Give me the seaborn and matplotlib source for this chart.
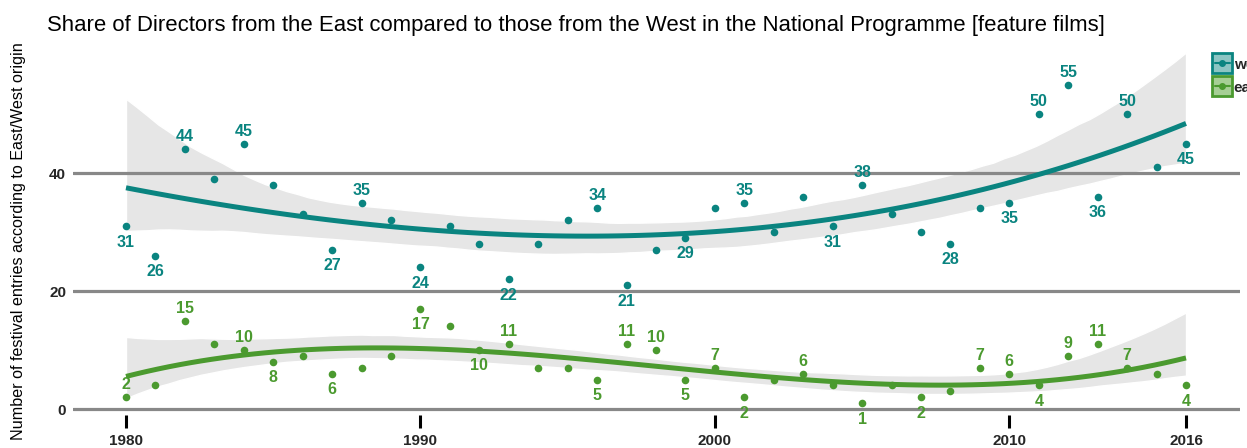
import numpy as np
import pandas as pd
import matplotlib
matplotlib.use("Agg")
import matplotlib.pyplot as plt
from matplotlib.lines import Line2D
from matplotlib.legend_handler import HandlerTuple
import seaborn as sns

# ---------------- data ----------------
years = list(range(1980, 2017))
west = [31, 26, 44, 39, 45, 38, 33, 27, 35, 32,
        24, 31, 28, 22, 28, 32, 34, 21, 27, 29,
        34, 35, 30, 36, 31, 38, 33, 30, 28, 34,
        35, 50, 55, 36, 50, 41, 45]
east = [2, 4, 15, 11, 10, 8, 9, 6, 7, 9,
        17, 14, 10, 11, 7, 7, 5, 11, 10, 5,
        7, 2, 5, 6, 4, 1, 4, 2, 3, 7,
        6, 4, 9, 11, 7, 6, 4]
west_labels_above = [1982, 1984, 1988, 1996, 2001, 2005, 2011, 2012, 2014]
west_labels_below = [1980, 1981, 1987, 1990, 1993, 1997, 1999, 2004, 2008, 2010, 2013, 2016]
east_labels_above = [1980, 1982, 1984, 1993, 1997, 1998, 2000, 2003, 2009, 2010, 2012, 2013, 2014]
east_labels_below = [1985, 1987, 1990, 1992, 1996, 1999, 2001, 2005, 2007, 2011, 2016]
series_names = ["west", "east"]
x_ticks = [1980, 1990, 2000, 2010, 2016]
y_ticks = [0, 20, 40]
title = "Share of Directors from the East compared to those from the West in the National Programme [feature films]"
y_label = "Number of festival entries according to East/West origin"

# ---------------- style ----------------
sns.set_theme(style="white")
plt.rcParams["font.family"] = ["Liberation Sans", "DejaVu Sans"]

W, H = 1247, 448
fig = plt.figure(figsize=(W / 100, H / 100), dpi=100)
ax_left, ax_right, ax_top, ax_bottom = 73, 1240, 40, 415
ax = fig.add_axes([ax_left / W, (H - ax_bottom) / H,
                   (ax_right - ax_left) / W, (ax_bottom - ax_top) / H])

teal = "#0a8480"
green = "#4b9a2f"
band = "#e6e6e6"
colors = [teal, green]

df = pd.DataFrame({"year": years, "west": west, "east": east})

for name, col in zip(series_names, colors):
    n_before = len(ax.collections)
    sns.regplot(data=df, x="year", y=name, order=3, ci=95, seed=3,
                scatter=False, color=col, ax=ax,
                line_kws=dict(lw=3.6, solid_capstyle="butt", zorder=3))
    for c in ax.collections[n_before:]:
        c.set_facecolor(band)
        c.set_alpha(1)
        c.set_zorder(1)

for yv in y_ticks:
    ax.axhline(yv, color="#888888", lw=2.3, zorder=1.5)

for name, col in zip(series_names, colors):
    sns.scatterplot(data=df, x="year", y=name, color=col, s=30,
                    linewidth=0, ax=ax, zorder=4)

def add_labels(vals, above, below, col):
    for yr in above:
        v = vals[years.index(yr)]
        ax.annotate(str(v), (yr, v), xytext=(0, 9), textcoords="offset points",
                    ha="center", va="center", color=col, fontsize=11.5,
                    fontweight="bold", zorder=5)
    for yr in below:
        v = vals[years.index(yr)]
        ax.annotate(str(v), (yr, v), xytext=(0, -11.5), textcoords="offset points",
                    ha="center", va="center", color=col, fontsize=11.5,
                    fontweight="bold", zorder=5)

add_labels(west, west_labels_above, west_labels_below, teal)
add_labels(east, east_labels_above, east_labels_below, green)

px_per_year = (1186 - 126) / 36
ax.set_xlim(1980 - (126 - ax_left) / px_per_year, 2016 + (ax_right - 1186) / px_per_year)
px_per_unit = (409 - 173) / 40
ax.set_ylim(-(ax_bottom - 409) / px_per_unit, (409 - ax_top) / px_per_unit)

ax.set_xticks(x_ticks)
ax.set_xticklabels([str(t) for t in x_ticks], fontweight="bold", fontsize=11)
ax.set_yticks(y_ticks)
ax.set_yticklabels([str(t) for t in y_ticks], fontweight="bold", fontsize=11)
ax.tick_params(axis="x", direction="out", length=9.4, width=2.2, color="black",
               pad=4.5, bottom=True)
ax.tick_params(axis="y", length=0, pad=5)
ax.set_xlabel("")
ax.set_ylabel("")
for s in ax.spines.values():
    s.set_visible(False)
ax.grid(False)

fig.text(47 / W, 1 - 25 / H, title, fontsize=15.9, va="center", ha="left", color="black")
fig.text(19 / W, 1 - 241 / H, y_label, fontsize=11.6, rotation=90,
         va="center", ha="center", color="black")

light = {teal: "#8cc5c3", green: "#a6cf95"}
handles = []
for col in colors:
    sq = Line2D([], [], marker="s", ms=14.5, mfc=light[col], mec=col, mew=2, ls="")
    ln = Line2D([], [], color=col, lw=1.5, marker="o", ms=4)
    handles.append((sq, ln))
fig.legend(handles, series_names, loc="upper left",
           bbox_to_anchor=(1207 / W, 1 - 50 / H), frameon=False,
           handler_map={tuple: HandlerTuple(ndivide=1, pad=0)},
           handlelength=1.0, handletextpad=0.25, labelspacing=0.6,
           prop=dict(weight="bold", size=11), borderpad=0)

fig.savefig("out.png", dpi=100)
